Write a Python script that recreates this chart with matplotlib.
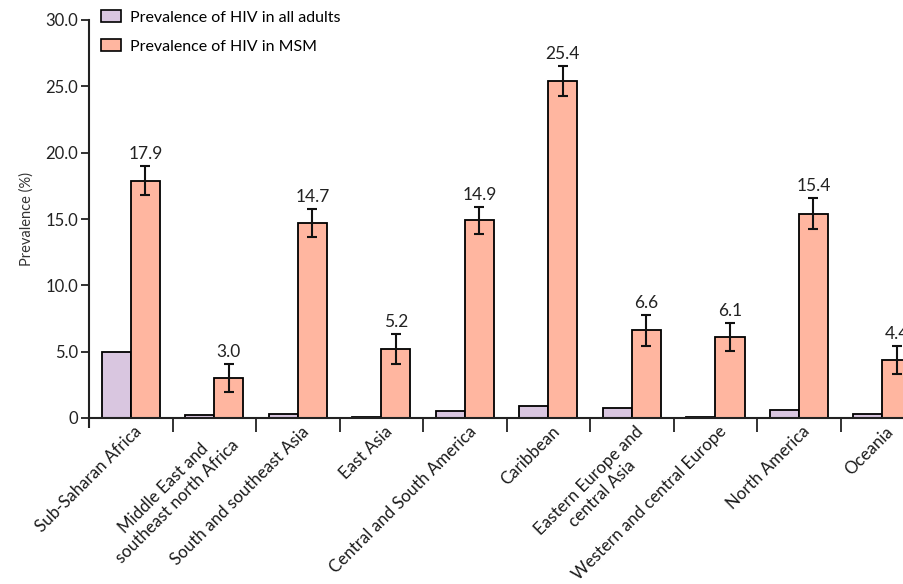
import matplotlib
matplotlib.use("Agg")
import matplotlib.pyplot as plt
from matplotlib.patches import Patch
from matplotlib.transforms import ScaledTranslation
import numpy as np

plt.rcParams['font.family'] = ['Lato', 'DejaVu Sans']

regions = [
    "Sub-Saharan Africa",
    "Middle East and\nsoutheast north Africa",
    "South and southeast Asia",
    "East Asia",
    "Central and South America",
    "Caribbean",
    "Eastern Europe and\ncentral Asia",
    "Western and central Europe",
    "North America",
    "Oceania",
]
all_adults = [5.0, 0.2, 0.3, 0.08, 0.5, 0.9, 0.75, 0.08, 0.6, 0.3]
msm = [17.9, 3.0, 14.7, 5.2, 14.9, 25.4, 6.6, 6.1, 15.4, 4.4]
msm_err = [1.1, 1.05, 1.05, 1.1, 1.0, 1.1, 1.15, 1.05, 1.15, 1.05]
yticks = [0, 5, 10, 15, 20, 25, 30]
ytick_labels = ["0", "5.0", "10.0", "15.0", "20.0", "25.0", "30.0"]

purple = "#d9c6e0"
salmon = "#ffb6a0"

fig = plt.figure(figsize=(9.04, 5.84), dpi=100)
ax = fig.add_axes([89 / 904, 166 / 584, 1 - 89 / 904, 398 / 584])

x = np.arange(len(regions))
w = 0.35
ax.bar(x - w / 2, all_adults, w, color=purple, edgecolor="black", linewidth=1.3)
ax.bar(x + w / 2, msm, w, color=salmon, edgecolor="black", linewidth=1.3)
ax.errorbar(x + w / 2, msm, yerr=msm_err, fmt="none", ecolor="#111111",
            elinewidth=1.5, capsize=3.4, capthick=1.5)

for xi, v, e in zip(x, msm, msm_err):
    ax.annotate(f"{v:.1f}", (xi + w / 2, v + e), xytext=(0, 3),
                textcoords="offset points", ha="center", va="bottom",
                fontsize=12.5, color="#222222", annotation_clip=False)

ax.spines["top"].set_visible(False)
ax.spines["right"].set_visible(False)
for s in ("left", "bottom"):
    ax.spines[s].set_linewidth(1.5)
    ax.spines[s].set_color("#222222")
# small extension of the y axis below the baseline
ax.plot([0, 0], [0, -0.025], transform=ax.transAxes, color="#222222",
        lw=1.5, clip_on=False, solid_capstyle="butt")

ax.set_yticks(yticks)
ax.set_yticklabels(ytick_labels, fontsize=12, color="#222222")
ax.tick_params(axis="y", direction="out", length=6, width=1.3, pad=2,
               color="#222222")

# tick marks between regions, labels under each region
ax.set_xticks(np.arange(len(regions)) + 0.5)
ax.set_xticklabels([])
ax.tick_params(axis="x", which="major", direction="out", length=10,
               width=1.3, color="#222222")
ax.set_xticks(x, minor=True)
ax.set_xticklabels(regions, minor=True, rotation=45, ha="right",
                   va="top", rotation_mode="anchor", fontsize=12.2,
                   color="#1a1a1a", multialignment="center")
ax.tick_params(axis="x", which="minor", length=0, pad=4)
shift = ScaledTranslation(3 / 100, 0, fig.dpi_scale_trans)
for lab in ax.get_xticklabels(minor=True):
    lab.set_transform(lab.get_transform() + shift)

ax.set_xlim(-0.5, 9.26)
ax.set_ylim(0, 30)

ax.set_ylabel("Prevalence (%)", fontsize=10.5, color="#333333", labelpad=8)

handles = [Patch(facecolor=purple, edgecolor="black", linewidth=1.2),
           Patch(facecolor=salmon, edgecolor="black", linewidth=1.2)]
fig.legend(handles, ["Prevalence of HIV in all adults",
                     "Prevalence of HIV in MSM"],
           loc="upper left", bbox_to_anchor=(91 / 904, 1.0), frameon=False,
           fontsize=11.5, handlelength=1.2, handleheight=0.75,
           handletextpad=0.6, labelspacing=0.9, borderaxespad=0.25)

fig.savefig("out.png", dpi=100)
